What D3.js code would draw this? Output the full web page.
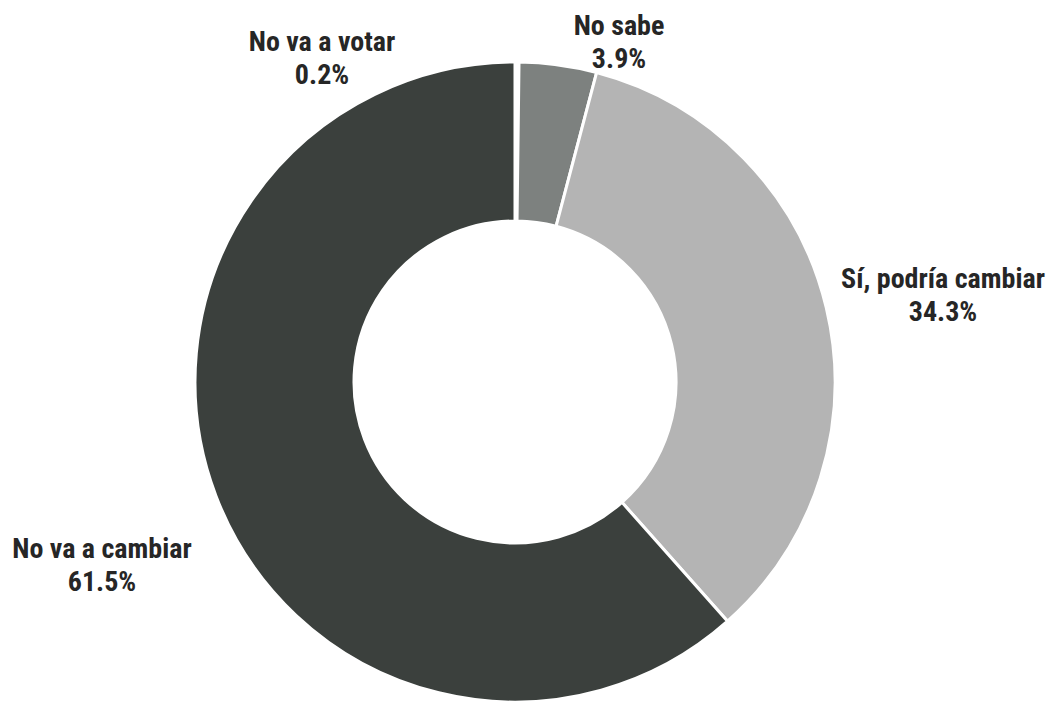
<!DOCTYPE html>
<html>
<head>
<meta charset="utf-8">
<script src="https://cdn.jsdelivr.net/npm/d3@7"></script>
<style>
  body { margin: 0; background: #fff; }
  .lbl { font-family: "Liberation Sans Narrow", "Arial Narrow", "Roboto Condensed", sans-serif; font-weight: bold; font-size: 28px; fill: #262626; }
</style>
</head>
<body>
<svg id="chart"></svg>
<script>
// data, clockwise from 12 o'clock
const categories = ["No va a votar", "No sabe", "Sí, podría cambiar", "No va a cambiar"];
const shares = [0.2, 3.9, 34.3, 61.5];
const valueLabels = ["0.2%", "3.9%", "34.3%", "61.5%"];

const colors = ["#ffffff", "#7d817f", "#b4b4b4", "#3b403d"];
// label anchor (centre of first line)
const labelPos = {
    "No va a votar": [322, 41],
    "No sabe": [619, 25],
    "Sí, podría cambiar": [943, 278],
    "No va a cambiar": [102, 548]
};

const width = 1053, height = 701;
const cx = 515, cy = 382, outerR = 320, innerR = 161;

const svg = d3.select('#chart').attr('width', width).attr('height', height);
const g = svg.append('g').attr('transform', `translate(${cx},${cy})`);

const table = categories.map((c, i) => ({ name: c, value: shares[i], label: valueLabels[i] }));

const pie = d3.pie().sort(null).value(d => d.value);
const arc = d3.arc().innerRadius(innerR).outerRadius(outerR);
const color = d3.scaleOrdinal().domain(categories).range(colors);

g.selectAll('path.slice')
    .data(pie(table))
    .join('path')
    .attr('class', 'slice')
    .attr('d', arc)
    .attr('fill', d => color(d.data.name))
    .attr('stroke', '#fff')
    .attr('stroke-width', 3);

const lbl = svg.selectAll('text.lbl')
    .data(table)
    .join('text')
    .attr('class', 'lbl')
    .attr('text-anchor', 'middle')
    .attr('x', d => labelPos[d.name][0])
    .attr('y', d => labelPos[d.name][1]);

lbl.append('tspan')
    .attr('x', d => labelPos[d.name][0])
    .attr('dy', '0.35em')
    .text(d => d.name);
lbl.append('tspan')
    .attr('x', d => labelPos[d.name][0])
    .attr('dy', 33)
    .text(d => d.label);
</script>
</body>
</html>
